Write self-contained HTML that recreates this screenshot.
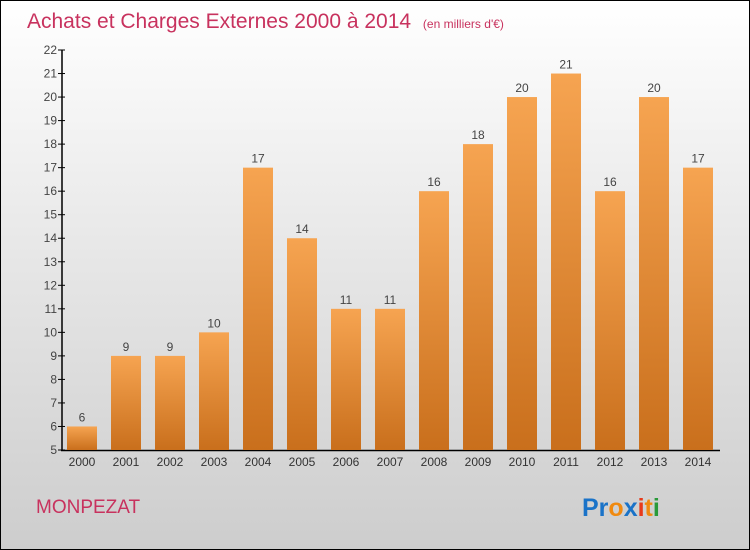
<!DOCTYPE html>
<html><head><meta charset="utf-8"><style>
body{margin:0}
#c{position:relative;width:750px;height:550px;box-sizing:border-box;border:1px solid #000;background:linear-gradient(#fff 0%,#eaeaea 40%,#cdcdcd 100%);font-family:"Liberation Sans",sans-serif;overflow:hidden}
</style></head><body>
<div id="c">
<svg width="750" height="550" style="position:absolute;left:-1px;top:-1px">
<defs><linearGradient id="g" x1="0" y1="0" x2="0" y2="1"><stop offset="0" stop-color="#f6a451"/><stop offset="1" stop-color="#c96f1c"/></linearGradient></defs>
<text x="27" y="28" font-size="21" fill="#c8325e">Achats et Charges Externes 2000 à 2014 <tspan font-size="12" dx="6">(en milliers d'€)</tspan></text>
<g id="plot"></g>
<text x="36" y="513" font-size="19" fill="#c8325e">MONPEZAT</text>
<text x="582" y="516" font-size="25" font-weight="bold"><tspan fill="#1a73c8">Pr</tspan><tspan fill="#f08a10">o</tspan><tspan fill="#1a73c8">x</tspan><tspan fill="#e83a1a">i</tspan><tspan fill="#f08a10">t</tspan><tspan fill="#2a9a3a">i</tspan></text>
</svg>
</div>
<script>
const categories=["2000","2001","2002","2003","2004","2005","2006","2007","2008","2009","2010","2011","2012","2013","2014"];
const values=[6,9,9,10,17,14,11,11,16,18,20,21,16,20,17];
const yTicks=[5,6,7,8,9,10,11,12,13,14,15,16,17,18,19,20,21,22];
const NS="http://www.w3.org/2000/svg";
const g=document.getElementById('plot');
const y=v=>450-(v-5)*400/17;
const x=i=>82+i*44;
function mk(t,a,txt){const e=document.createElementNS(NS,t);for(const k in a)e.setAttribute(k,a[k]);if(txt!==undefined)e.textContent=txt;g.appendChild(e);return e;}
let ax=mk('line',{x1:62,y1:50,x2:62,y2:451,stroke:'#000','stroke-width':1.5});


let bx=mk('line',{x1:61,y1:450.5,x2:720,y2:450.5,stroke:'#000','stroke-width':1.5});


yTicks.forEach(v=>{
  let t=mk('line',{x1:58,y1:y(v),x2:65,y2:y(v),stroke:'#000'});
  
  
  let l=mk('text',{x:57,y:y(v)+4,'font-size':12,fill:'#444','text-anchor':'end'},v);
  
  
});
categories.forEach((c,i)=>{
  const v=values[i];
  let r=mk('rect',{x:x(i)-15,y:y(v),width:30,height:450-y(v),fill:'url(#g)'});
  
  
  let vl=mk('text',{x:x(i),y:y(v)-5,'font-size':12,fill:'#444','text-anchor':'middle'},v);
  
  
  let xl=mk('text',{x:x(i),y:466,'font-size':12,fill:'#333','text-anchor':'middle'},c);
  
  
});
</script>
</body></html>
